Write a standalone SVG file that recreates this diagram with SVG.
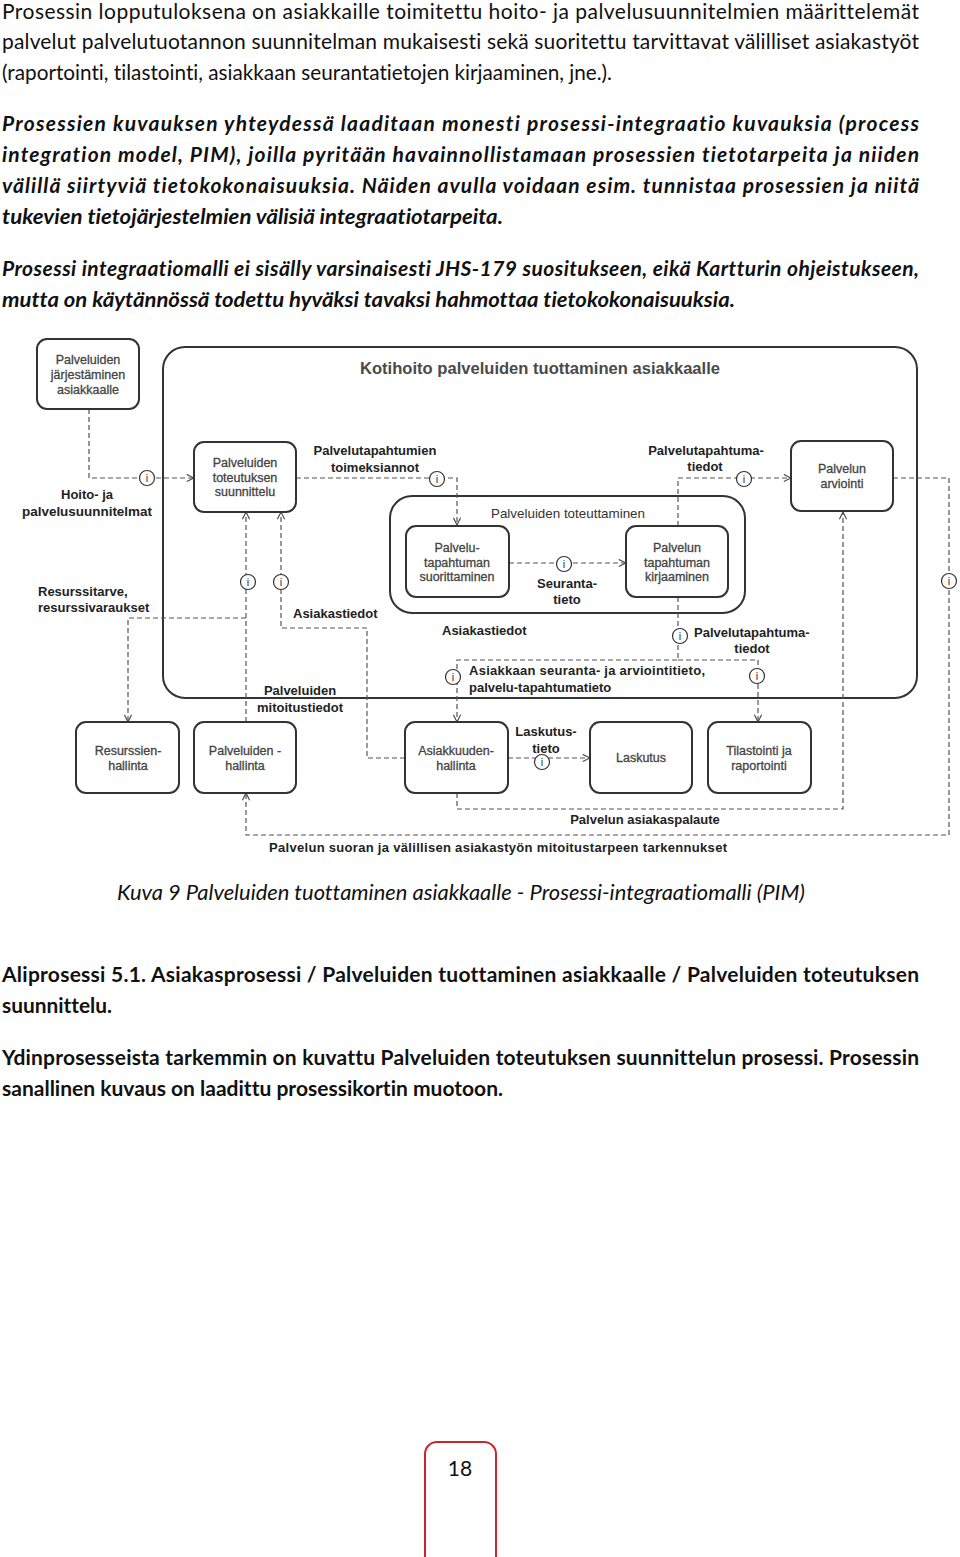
<svg xmlns="http://www.w3.org/2000/svg" width="960" height="1557" viewBox="0 0 960 1557">
<style>
.body{font-family:Lato,"Liberation Sans",sans-serif;font-size:21px;fill:#111;font-variant-ligatures:none}
.bi{font-style:italic;font-weight:bold}
.b{font-weight:bold}
.it{font-style:italic}
.box{fill:#fff;stroke:#333;stroke-width:2}
.cont{fill:none;stroke:#333;stroke-width:2}
.nt{font-family:"Liberation Sans",Arial,sans-serif;font-size:12.5px;fill:#444;stroke:#444;stroke-width:0.3;text-anchor:middle}
.lb{font-family:"Liberation Sans",Arial,sans-serif;font-size:13px;font-weight:bold;fill:#222}
.mid{text-anchor:middle}
.con{fill:none;stroke:#555;stroke-width:1.2;stroke-dasharray:5 3}
.arr{marker-end:url(#ah)}
</style>
<defs>
<marker id="ah" viewBox="0 0 10 10" refX="9" refY="5" markerWidth="9" markerHeight="9" markerUnits="userSpaceOnUse" orient="auto">
<path d="M1,1 L9,5 L1,9" fill="none" stroke="#444" stroke-width="1.2"/>
</marker>
<g id="info"><circle r="7.5" fill="#fff" stroke="#333" stroke-width="1.2"/><text y="4" text-anchor="middle" font-family="Liberation Sans,Arial,sans-serif" font-size="11" fill="#333">i</text></g>
</defs>
<rect width="960" height="1557" fill="#fff"/>

<g id="text-top">
<text class="body" x="2" y="19" textLength="917" lengthAdjust="spacing">Prosessin lopputuloksena on asiakkaille toimitettu hoito- ja palvelusuunnitelmien määrittelemät</text>
<text class="body" x="2" y="49" textLength="917" lengthAdjust="spacing">palvelut palvelutuotannon suunnitelman mukaisesti sekä suoritettu tarvittavat välilliset asiakastyöt</text>
<text class="body" x="2" y="80" textLength="610" lengthAdjust="spacingAndGlyphs">(raportointi, tilastointi, asiakkaan seurantatietojen kirjaaminen, jne.).</text>
<text class="body bi" x="2" y="131" textLength="917" lengthAdjust="spacing">Prosessien kuvauksen yhteydessä laaditaan monesti prosessi-integraatio kuvauksia (process</text>
<text class="body bi" x="2" y="162" textLength="917" lengthAdjust="spacing">integration model, PIM), joilla pyritään havainnollistamaan prosessien tietotarpeita ja niiden</text>
<text class="body bi" x="2" y="193" textLength="917" lengthAdjust="spacing">välillä siirtyviä tietokokonaisuuksia. Näiden avulla voidaan esim. tunnistaa prosessien ja niitä</text>
<text class="body bi" x="2" y="224" textLength="501" lengthAdjust="spacingAndGlyphs">tukevien tietojärjestelmien välisiä integraatiotarpeita.</text>
<text class="body bi" x="2" y="276" textLength="917" lengthAdjust="spacing">Prosessi integraatiomalli ei sisälly varsinaisesti JHS-179 suositukseen, eikä Kartturin ohjeistukseen,</text>
<text class="body bi" x="2" y="307" textLength="733" lengthAdjust="spacingAndGlyphs">mutta on käytännössä todettu hyväksi tavaksi hahmottaa tietokokonaisuuksia.</text>
</g>

<g id="containers">
<g id="kotihoito">
<rect class="cont" x="163" y="347" width="754" height="351" rx="22"/>
<text x="540" y="374" text-anchor="middle" font-family="Liberation Sans,Arial,sans-serif" font-size="16.5" font-weight="bold" fill="#4a4a4a" textLength="360" lengthAdjust="spacingAndGlyphs">Kotihoito palveluiden tuottaminen asiakkaalle</text>
</g>
<g id="toteuttaminen">
<rect class="cont" x="390" y="496" width="355" height="117" rx="22"/>
<text x="568" y="518" text-anchor="middle" font-family="Liberation Sans,Arial,sans-serif" font-size="13" fill="#333" textLength="154" lengthAdjust="spacingAndGlyphs">Palveluiden toteuttaminen</text>
</g>
</g>

<g id="connectors">
<path class="con arr" d="M89,409 V478 H194"/>
<path class="con arr" d="M296,478 H457 V525"/>
<path class="con arr" d="M509,563 H626"/>
<path class="con arr" d="M678,526 V478 H791"/>
<path class="con arr" d="M678,597 V660 H457 V722"/>
<path class="con arr" d="M678,660 H758 V722"/>
<path class="con arr" d="M893,478 H949 V835 H246 V793"/>
<path class="con arr" d="M457,793 V809 H843 V512"/>
<path class="con arr" d="M246,722 V512"/>
<path class="con arr" d="M246,618 H128 V722"/>
<path class="con arr" d="M405,758 H367 V628 H281 V512"/>
<path class="con arr" d="M508,758 H590"/>
<use href="#info" x="147" y="478"/>
<use href="#info" x="437" y="479"/>
<use href="#info" x="564" y="564"/>
<use href="#info" x="744" y="479"/>
<use href="#info" x="680" y="636"/>
<use href="#info" x="453" y="677"/>
<use href="#info" x="757" y="676"/>
<use href="#info" x="949" y="581"/>
<use href="#info" x="248" y="582"/>
<use href="#info" x="281" y="582"/>
<use href="#info" x="542" y="762"/>
</g>

<g id="labels">
<text class="lb mid" x="87" y="499">Hoito- ja</text>
<text class="lb mid" x="87" y="516" textLength="130" lengthAdjust="spacingAndGlyphs">palvelusuunnitelmat</text>
<text class="lb mid" x="375" y="455">Palvelutapahtumien</text>
<text class="lb mid" x="375" y="472">toimeksiannot</text>
<text class="lb mid" x="706" y="455">Palvelutapahtuma-</text>
<text class="lb mid" x="705" y="471">tiedot</text>
<text class="lb mid" x="567" y="588">Seuranta-</text>
<text class="lb mid" x="567" y="604">tieto</text>
<text class="lb" x="38" y="596">Resurssitarve,</text>
<text class="lb" x="38" y="612">resurssivaraukset</text>
<text class="lb" x="293" y="618">Asiakastiedot</text>
<text class="lb" x="442" y="635">Asiakastiedot</text>
<text class="lb" x="694" y="637">Palvelutapahtuma-</text>
<text class="lb mid" x="752" y="653">tiedot</text>
<text class="lb" x="469" y="675" textLength="236" lengthAdjust="spacing">Asiakkaan seuranta-  ja arviointitieto,</text>
<text class="lb" x="469" y="692">palvelu-tapahtumatieto</text>
<text class="lb mid" x="300" y="695">Palveluiden</text>
<text class="lb mid" x="300" y="712">mitoitustiedot</text>
<text class="lb mid" x="546" y="736">Laskutus-</text>
<text class="lb mid" x="546" y="753">tieto</text>
<text class="lb mid" x="645" y="824">Palvelun asiakaspalaute</text>
<text class="lb mid" x="498" y="852" textLength="458" lengthAdjust="spacing">Palvelun suoran ja välillisen asiakastyön  mitoitustarpeen  tarkennukset</text>
</g>

<g id="n-jarjestaminen">
<rect class="box" x="37" y="339" width="102" height="70" rx="10"/>
<text class="nt" x="88" y="364">Palveluiden</text>
<text class="nt" x="88" y="379">järjestäminen</text>
<text class="nt" x="88" y="394">asiakkaalle</text>
</g>
<g id="n-toteutuksen">
<rect class="box" x="194" y="442" width="102" height="70" rx="10"/>
<text class="nt" x="245" y="467">Palveluiden</text>
<text class="nt" x="245" y="482">toteutuksen</text>
<text class="nt" x="245" y="496">suunnittelu</text>
</g>
<g id="n-arviointi">
<rect class="box" x="791" y="441" width="102" height="70" rx="10"/>
<text class="nt" x="842" y="473">Palvelun</text>
<text class="nt" x="842" y="488">arviointi</text>
</g>
<g id="n-suorittaminen">
<rect class="box" x="406" y="526" width="103" height="71" rx="10"/>
<text class="nt" x="457" y="552">Palvelu-</text>
<text class="nt" x="457" y="567">tapahtuman</text>
<text class="nt" x="457" y="581">suorittaminen</text>
</g>
<g id="n-kirjaaminen">
<rect class="box" x="626" y="526" width="102" height="71" rx="10"/>
<text class="nt" x="677" y="552">Palvelun</text>
<text class="nt" x="677" y="567">tapahtuman</text>
<text class="nt" x="677" y="581">kirjaaminen</text>
</g>
<g id="n-resurssienhallinta">
<rect class="box" x="76" y="722" width="103" height="71" rx="10"/>
<text class="nt" x="128" y="755">Resurssien-</text>
<text class="nt" x="128" y="770">hallinta</text>
</g>
<g id="n-palveluidenhallinta">
<rect class="box" x="194" y="722" width="102" height="71" rx="10"/>
<text class="nt" x="245" y="755">Palveluiden -</text>
<text class="nt" x="245" y="770">hallinta</text>
</g>
<g id="n-asiakkuudenhallinta">
<rect class="box" x="405" y="722" width="103" height="71" rx="10"/>
<text class="nt" x="456" y="755">Asiakkuuden-</text>
<text class="nt" x="456" y="770">hallinta</text>
</g>
<g id="n-laskutus">
<rect class="box" x="590" y="722" width="102" height="71" rx="10"/>
<text class="nt" x="641" y="762">Laskutus</text>
</g>
<g id="n-tilastointi">
<rect class="box" x="708" y="722" width="103" height="71" rx="10"/>
<text class="nt" x="759" y="755">Tilastointi ja</text>
<text class="nt" x="759" y="770">raportointi</text>
</g>

<g id="text-bottom">
<text class="body it" x="117" y="900" textLength="688" lengthAdjust="spacingAndGlyphs">Kuva 9 Palveluiden tuottaminen asiakkaalle - Prosessi-integraatiomalli (PIM)</text>
<text class="body b" x="2" y="982" textLength="917" lengthAdjust="spacing">Aliprosessi 5.1. Asiakasprosessi / Palveluiden tuottaminen asiakkaalle / Palveluiden toteutuksen</text>
<text class="body b" x="2" y="1013" textLength="110" lengthAdjust="spacingAndGlyphs">suunnittelu.</text>
<text class="body b" x="2" y="1065" textLength="917" lengthAdjust="spacing">Ydinprosesseista tarkemmin on kuvattu Palveluiden toteutuksen suunnittelun prosessi. Prosessin</text>
<text class="body b" x="2" y="1096" textLength="501" lengthAdjust="spacingAndGlyphs">sanallinen kuvaus on laadittu prosessikortin muotoon.</text>
</g>

<g id="page-number">
<rect x="425" y="1442" width="71" height="140" rx="12" fill="none" stroke="#c8262c" stroke-width="2"/>
<text x="460" y="1476" text-anchor="middle" font-family="Lato,Liberation Sans,sans-serif" font-size="21" fill="#111">18</text>
</g>
</svg>
